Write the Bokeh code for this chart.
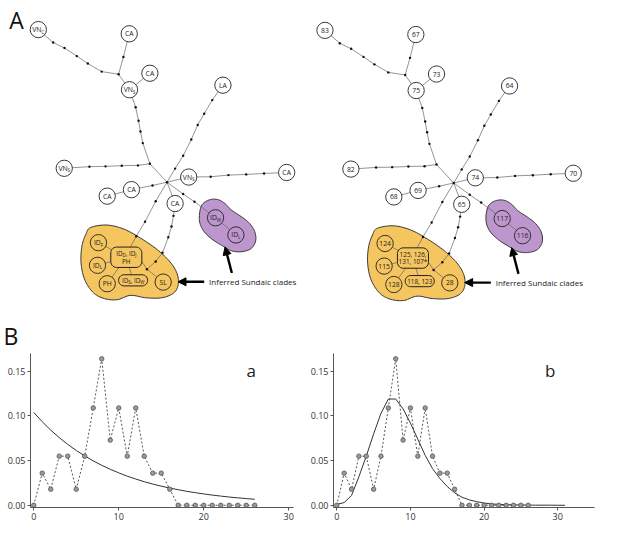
import re
import numpy as np
from bokeh.plotting import figure
from bokeh.layouts import column, row
from bokeh.models import Range1d, Arrow, NormalHead, ColumnDataSource, FixedTicker, NumeralTickFormatter, Label
from bokeh.embed import file_html
from bokeh.resources import INLINE
from bokeh.core.properties import value

# ---------------- data ----------------
mismatch_steps = [0, 1, 2, 3, 4, 5, 6, 7, 8, 9, 10, 11, 12, 13, 14, 15, 16, 17, 18, 19, 20, 21, 22, 23, 24, 25, 26]
observed_freq = [0.0, 0.036, 0.018, 0.055, 0.055, 0.018, 0.055, 0.109, 0.164, 0.073, 0.109, 0.055, 0.109,
                 0.055, 0.036, 0.036, 0.018, 0.0, 0.0, 0.0, 0.0, 0.0, 0.0, 0.0, 0.0, 0.0, 0.0]
expected_constant = [0.104, 0.0936, 0.0842, 0.0758, 0.0682, 0.0614, 0.0553, 0.0497, 0.0448, 0.0403, 0.0363,
                     0.0326, 0.0294, 0.0264, 0.0238, 0.0214, 0.0193, 0.0174, 0.0156, 0.0141, 0.0127, 0.0114,
                     0.0103, 0.0092, 0.0083, 0.0075, 0.0067]
expansion_steps = [0, 1, 2, 3, 4, 5, 6, 7, 8, 9, 10, 11, 12, 13, 14, 15, 16, 17, 18, 19, 20, 21, 22, 23, 24,
                   25, 26, 27, 28, 29, 30, 31]
expected_expansion = [0.001, 0.003, 0.011, 0.032, 0.055, 0.080, 0.103, 0.119, 0.119, 0.108, 0.092, 0.074,
                      0.056, 0.041, 0.030, 0.021, 0.014, 0.009, 0.006, 0.004, 0.0025, 0.0015, 0.001, 0.0007,
                      0.0005, 0.0003, 0.0002, 0.0001, 0.0001, 0.0001, 0.0, 0.0]
x_ticks = [0, 10, 20, 30]
y_ticks = [0.0, 0.05, 0.10, 0.15]

region_labels = ["VN_C", "CA", "CA", "VN_S", "LA", "VN_S", "CA", "VN_S", "CA", "CA", "CA",
                 "ID_W", "ID_L", "ID_F", "ID_L", "PH", "SL"]
haplotype_labels = ["83", "67", "73", "75", "64", "82", "70", "74", "69", "68", "65",
                    "117", "116", "124", "115", "128", "28"]
region_groups = ["ID_D, ID_J|PH", "ID_S, ID_W"]
haplotype_groups = ["125, 126,|131, 107*", "118, 123"]
caption = "Inferred Sundaic clades"

# ---------------- network geometry (pixel-like coordinates) ----------------
S = 0.97
FONT = "Open Sans"
node_xy = [(39, 30), (132.7, 34.3), (154, 75), (133, 92), (229.3, 87.3), (65.7, 173), (295, 177.3),
           (194, 182), (135, 195), (110, 201.7), (180, 209.3), (221.7, 224), (242.7, 241.7),
           (101, 249.7), (100, 273), (110, 292), (167.7, 290.3)]
node_zone = ["w"] * 11 + ["p", "p"] + ["y"] * 4
oval_geom = [(129.7, 264.7, 32, 21), (136.7, 288.5, 30, 11.5)]
J1, J2, HUB, J3 = (121.7, 76), (154, 168.3), (171.7, 187.3), (151, 277)
N = node_xy
edges = [
    [N[0], (54.3, 43.3), (66, 49), (78.7, 57.3), (90, 65), (104.3, 73.3), J1],
    [N[1], (126.7, 58.3), J1],
    [J1, N[3]],
    [N[2], N[3]],
    [N[3], (139.3, 110), (142.3, 124), (144.3, 135), (146.7, 147), J2],
    [N[5], (91.7, 171.3), (108.3, 171), (125, 170.3), (141.7, 170), J2],
    [J2, HUB],
    [N[4], (218.3, 102.7), (210, 116.7), (203.3, 128.3), (196.7, 143.3), (188.3, 160), (180, 173.3), HUB],
    [HUB, N[7]],
    [N[7], (216.7, 181.7), (235, 180), (253.3, 179.3), (271.7, 178.3), N[6]],
    [HUB, (156.7, 190.7), N[8]],
    [N[8], N[9]],
    [HUB, (188.3, 199.5), (200, 207.5), N[11]],
    [N[11], N[12]],
    [HUB, N[10]],
    [HUB, (160, 207), (149, 228), (140, 243), (133, 256)],
    [N[10], (178.3, 222), (176.3, 233), (173, 244), (167, 260), (160, 269), J3],
    [J3, (145, 268)],
    [J3, N[16]],
    [N[13], oval_geom[0][:2]], [N[14], oval_geom[0][:2]], [N[15], oval_geom[0][:2]],
    [oval_geom[0][:2], oval_geom[1][:2]],
]
junctions = [J1, J2, HUB, J3]
yellow_ctrl = [(93, 234), (110, 231.5), (128, 236), (146, 246), (163, 258), (176, 271), (182.5, 283),
               (183, 294), (178, 302), (166, 306.5), (150, 306.5), (134, 304), (120, 308.5), (106, 307),
               (95, 300.5), (86.5, 287), (83, 270), (84, 253), (88, 241)]
purple_ctrl = [(207, 212), (214, 206), (223, 205), (231, 209), (238, 216), (247, 222), (256, 229),
               (262, 238), (263, 248), (258, 256), (248, 259), (238, 258), (229, 253), (218, 246),
               (209, 237), (205, 226)]
YELLOW = "#F5C560"
PURPLE = "#BD96CE"
FILL = {"w": "white", "y": YELLOW, "p": PURPLE}

CW = {'I': 0.29, 'D': 0.70, 'V': 0.58, 'N': 0.75, 'C': 0.63, 'S': 0.55, 'W': 0.90, 'F': 0.49, 'J': 0.26,
      'L': 0.51, 'P': 0.60, 'H': 0.74, 'A': 0.63, ',': 0.25, ' ': 0.26, '*': 0.55}


def tw(s, size):
    return sum(CW.get(c, 0.57) for c in s) * size


def smooth_closed(pts, n=10):
    P = np.array(pts, float)
    m = len(P)
    out = []
    t = np.linspace(0, 1, n, endpoint=False)[:, None]
    for i in range(m):
        p0, p1, p2, p3 = P[(i - 1) % m], P[i], P[(i + 1) % m], P[(i + 2) % m]
        seg = 0.5 * (2 * p1 + (-p0 + p2) * t + (2 * p0 - 5 * p1 + 4 * p2 - p3) * t ** 2
                     + (-p0 + 3 * p1 - 3 * p2 + p3) * t ** 3)
        out.append(seg)
    out = np.vstack(out)
    return out[:, 0], out[:, 1]


def rounded_rect(cx, cy, w, h, r, n=8):
    r = min(r, w / 2, h / 2)
    xs, ys = [], []
    corners = [(cx + w / 2 - r, cy - h / 2 + r, -90, 0), (cx + w / 2 - r, cy + h / 2 - r, 0, 90),
               (cx - w / 2 + r, cy + h / 2 - r, 90, 180), (cx - w / 2 + r, cy - h / 2 + r, 180, 270)]
    for (ox, oy, a0, a1) in corners:
        a = np.radians(np.linspace(a0, a1, n))
        xs.extend(ox + r * np.cos(a))
        ys.extend(oy + r * np.sin(a))
    return xs, ys


def parse(label):
    lines = []
    for line in label.split("|"):
        runs = []
        for m in re.finditer(r"_(.)|([^_]+)", line):
            runs.append((m.group(1), True) if m.group(1) else (m.group(2), False))
        lines.append(runs)
    return lines


def add_label(store, cx, cy, label, size=6.8, gap=7.8):
    lines = parse(label)
    n = len(lines)
    for li, runs in enumerate(lines):
        y = cy + (li - (n - 1) / 2) * gap / S
        sizes = [size * 0.7 if sub else size for _, sub in runs]
        widths = [tw(t, s) for (t, _), s in zip(runs, sizes)]
        x = cx - sum(widths) / 2 / S
        for (t, sub), s, w in zip(runs, sizes, widths):
            store["x"].append(x)
            store["y"].append(y + (2.0 if sub else 0.0))
            store["text"].append(t)
            store["fs"].append(f"{s:.1f}px")
            x += w / S


def draw_network(p, dx, dy, labels, group_labels):
    yx, yy = smooth_closed(yellow_ctrl)
    px_, py_ = smooth_closed(purple_ctrl)
    p.patch(yx + dx, yy + dy, fill_color=YELLOW, line_color="#333", line_width=1)
    p.patch(px_ + dx, py_ + dy, fill_color=PURPLE, line_color="#333", line_width=1)
    p.multi_line([[q[0] + dx for q in e] for e in edges], [[q[1] + dy for q in e] for e in edges],
                 line_color="#666", line_width=0.7)
    dots = [q for e in edges for q in e[1:-1]] + junctions
    p.scatter([q[0] + dx for q in dots], [q[1] + dy for q in dots], size=2.4, fill_color="#111",
              line_color=None)
    for (cx, cy, w, h) in oval_geom:
        rx, ry = rounded_rect(cx + dx, cy + dy, w, h, 6)
        p.patch(rx, ry, fill_color=YELLOW, line_color="#222", line_width=1)
    p.circle([q[0] + dx for q in node_xy], [q[1] + dy for q in node_xy], radius=8.4,
             fill_color=[FILL[z] for z in node_zone], line_color="#222", line_width=0.9)
    store = {"x": [], "y": [], "text": [], "fs": []}
    for (cx, cy), lab in zip(node_xy, labels):
        add_label(store, cx + dx, cy + dy, lab)
    for (cx, cy, w, h), lab in zip(oval_geom, group_labels):
        add_label(store, cx + dx, cy + dy, lab, size=6.4)
    p.text("x", "y", text="text", source=ColumnDataSource(store), text_font_size="fs",
           text_font=value(FONT), text_align="left", text_baseline="middle", text_color="#222")
    p.add_layout(Arrow(end=NormalHead(size=8, fill_color="black", line_color="black"),
                       x_start=210 + dx, y_start=290 + dy, x_end=183 + dx, y_end=290 + dy,
                       line_width=2.4, line_color="black"))
    p.add_layout(Arrow(end=NormalHead(size=8, fill_color="black", line_color="black"),
                       x_start=238.5 + dx, y_start=281 + dy, x_end=231.5 + dx, y_end=254 + dy,
                       line_width=2.4, line_color="black"))
    p.text([215 + dx], [290 + dy], text=[caption], text_font_size="8px", text_font=value(FONT),
           text_align="left", text_baseline="middle", text_color="#222")


top = figure(width=600, height=351, x_range=Range1d(0, 600 / S), y_range=Range1d(351 / S, 0),
             output_backend="svg", toolbar_location=None, x_axis_location=None, y_axis_location=None,
             min_border=0)
top.grid.visible = False
top.outline_line_color = None
draw_network(top, 0, 0, region_labels, region_groups)
draw_network(top, 295.5, 0.8, haplotype_labels, haplotype_groups)
top.text([9, 3], [20, 346], text=["A", "B"], text_font_size="23px",
         text_font=value("'Liberation Sans Narrow', 'Open Sans'"), text_align="left",
         text_baseline="middle", text_color="#111")


def mismatch_plot(width, xr, min_left, min_right, obs_x, obs, exp_x, exp, letter, lx):
    p = figure(width=width, height=171, x_range=Range1d(*xr), y_range=Range1d(-0.0025, 0.170),
               output_backend="svg", toolbar_location=None, min_border_left=min_left,
               min_border_right=min_right, min_border_top=2, min_border_bottom=14)
    p.grid.visible = False
    p.outline_line_color = None
    p.line(exp_x, exp, line_color="#333", line_width=1)
    p.line(obs_x, obs, line_color="#555", line_width=1, line_dash="2 2")
    p.scatter(obs_x, obs, size=4.5, fill_color="#9a9a9a", line_color="#555", line_width=0.8)
    p.xaxis.ticker = FixedTicker(ticks=x_ticks)
    p.yaxis.ticker = FixedTicker(ticks=y_ticks)
    p.yaxis.formatter = NumeralTickFormatter(format="0.00")
    for ax in (p.xaxis, p.yaxis):
        ax.axis_line_color = "#555"
        ax.major_tick_line_color = "#555"
        ax.minor_tick_line_color = None
        ax.major_tick_in = 0
        ax.major_tick_out = 3
        ax.major_label_text_font = FONT
        ax.major_label_text_font_size = "9px"
        ax.major_label_text_color = "#333"
        ax.major_label_standoff = 2
    p.add_layout(Label(x=lx, y=0.151, text=letter, text_font_size="17px", text_font=FONT,
                       text_align="center", text_baseline="middle", text_color="#222"))
    return p


pa = mismatch_plot(301, (-0.38, 30.56), 30, 8, mismatch_steps, observed_freq, mismatch_steps,
                   expected_constant, "a", 25.6)
pb = mismatch_plot(299, (-0.45, 35.0), 32, 6, mismatch_steps, observed_freq, expansion_steps,
                   expected_expansion, "b", 29.0)

layout = column(top, row(pa, pb))
open("out.html", "w").write(file_html(layout, INLINE))
